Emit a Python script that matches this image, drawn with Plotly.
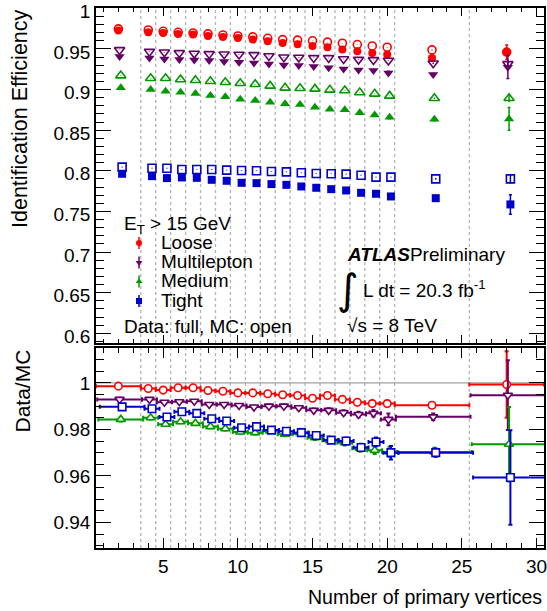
import plotly.graph_objects as go

# ---------------- data ----------------
n_pv = [2, 4, 5, 6, 7, 8, 9, 10, 11, 12, 13, 14, 15, 16, 17, 18, 19, 20, 23, 28]
bin_half = [1.5, 0.5, 0.5, 0.5, 0.5, 0.5, 0.5, 0.5, 0.5, 0.5, 0.5, 0.5, 0.5, 0.5, 0.5, 0.5, 0.5, 0.5, 2.5, 2.5]
bin_edges = [3.5, 4.5, 5.5, 6.5, 7.5, 8.5, 9.5, 10.5, 11.5, 12.5, 13.5, 14.5, 15.5,
             16.5, 17.5, 18.5, 19.5, 20.5, 25.5]

series_names = ["Loose", "Multilepton", "Medium", "Tight"]
x_shift = [0.0, 0.08, 0.16, 0.25]

loose_mc = [0.9747, 0.9734, 0.9717, 0.9705, 0.9697, 0.9685, 0.9672, 0.9660, 0.9648, 0.9631,
            0.9615, 0.9609, 0.9600, 0.9584, 0.9570, 0.9554, 0.9537, 0.9521, 0.9488, 0.9462]
loose_data = [0.9726, 0.9705, 0.9697, 0.9685, 0.9677, 0.9660, 0.9648, 0.9636, 0.9615, 0.9595,
              0.9574, 0.9557, 0.9537, 0.9521, 0.9492, 0.9472, 0.9451, 0.9431, 0.9390, 0.9459]
multi_mc = [0.9488, 0.9467, 0.9459, 0.9451, 0.9443, 0.9439, 0.9435, 0.9431, 0.9427, 0.9414,
            0.9398, 0.9394, 0.9390, 0.9390, 0.9377, 0.9369, 0.9365, 0.9357, 0.9324, 0.9316]
multi_data = [0.9406, 0.9390, 0.9377, 0.9369, 0.9365, 0.9357, 0.9344, 0.9336, 0.9328, 0.9316,
              0.9303, 0.9295, 0.9283, 0.9267, 0.9254, 0.9242, 0.9234, 0.9205, 0.9185, 0.9275]
medium_mc = [0.9172, 0.9139, 0.9139, 0.9123, 0.9115, 0.9103, 0.9090, 0.9078, 0.9066, 0.9045,
             0.9021, 0.9016, 0.9008, 0.8996, 0.8988, 0.8963, 0.8947, 0.8922, 0.8893, 0.8893]
medium_data = [0.9021, 0.9000, 0.8980, 0.8967, 0.8951, 0.8926, 0.8910, 0.8881, 0.8865, 0.8844,
               0.8824, 0.8815, 0.8783, 0.8758, 0.8750, 0.8713, 0.8688, 0.8660, 0.8635, 0.8639]
tight_mc = [0.8045, 0.8032, 0.8032, 0.8016, 0.8016, 0.8016, 0.8008, 0.8004, 0.8000, 0.7991,
            0.7987, 0.7975, 0.7967, 0.7963, 0.7959, 0.7946, 0.7922, 0.7922, 0.7901, 0.7901]
tight_data = [0.7963, 0.7934, 0.7910, 0.7918, 0.7913, 0.7889, 0.7877, 0.7852, 0.7848, 0.7836,
              0.7827, 0.7807, 0.7791, 0.7774, 0.7758, 0.7729, 0.7717, 0.7684, 0.7663, 0.7586]

data_err = {
    "Loose": [0.0005, 0.0004, 0.0004, 0.0004, 0.0004, 0.0004, 0.0004, 0.0004, 0.0005, 0.0005,
              0.0005, 0.0005, 0.0006, 0.0006, 0.0007, 0.0008, 0.0009, 0.0010, 0.0008, 0.0090],
    "Multilepton": [0.0007, 0.0005, 0.0005, 0.0005, 0.0005, 0.0005, 0.0006, 0.0006, 0.0006, 0.0007,
                    0.0007, 0.0008, 0.0008, 0.0009, 0.0010, 0.0012, 0.0014, 0.0020, 0.0014, 0.0140],
    "Medium": [0.0009, 0.0007, 0.0007, 0.0007, 0.0007, 0.0007, 0.0008, 0.0008, 0.0008, 0.0009,
               0.0009, 0.0010, 0.0010, 0.0011, 0.0012, 0.0014, 0.0016, 0.0020, 0.0018, 0.0140],
    "Tight": [0.0010, 0.0009, 0.0009, 0.0009, 0.0009, 0.0009, 0.0010, 0.0010, 0.0010, 0.0011,
              0.0011, 0.0012, 0.0012, 0.0013, 0.0014, 0.0016, 0.0019, 0.0025, 0.0018, 0.0120],
}
mc_err = {
    "Loose": [0.0002] * 18 + [0.0006, 0.0040],
    "Multilepton": [0.0003] * 18 + [0.0008, 0.0050],
    "Medium": [0.0003] * 18 + [0.0009, 0.0050],
    "Tight": [0.0004] * 18 + [0.0010, 0.0060],
}

loose_ratio = [0.9986, 0.9976, 0.9969, 0.9979, 0.9979, 0.9967, 0.9964, 0.9957, 0.9957, 0.9953,
               0.9949, 0.9946, 0.9934, 0.9946, 0.9929, 0.9917, 0.9911, 0.9911, 0.9904, 0.9993]
multi_ratio = [0.9929, 0.9929, 0.9917, 0.9919, 0.9921, 0.9907, 0.9907, 0.9903, 0.9896, 0.9900,
               0.9900, 0.9893, 0.9882, 0.9882, 0.9872, 0.9864, 0.9869, 0.9843, 0.9854, 0.9947]
medium_ratio = [0.9843, 0.9850, 0.9822, 0.9833, 0.9826, 0.9812, 0.9803, 0.9789, 0.9786, 0.9793,
                0.9779, 0.9786, 0.9764, 0.9753, 0.9743, 0.9719, 0.9710, 0.9703, 0.9703, 0.9736]
tight_ratio = [0.9897, 0.9889, 0.9853, 0.9876, 0.9869, 0.9846, 0.9836, 0.9807, 0.9812, 0.9797,
               0.9792, 0.9786, 0.9774, 0.9754, 0.9750, 0.9722, 0.9746, 0.9700, 0.9700, 0.9593]

loose_ratio_err = [0.0005, 0.0004, 0.0004, 0.0004, 0.0004, 0.0004, 0.0004, 0.0004, 0.0005, 0.0005,
                   0.0005, 0.0005, 0.0006, 0.0006, 0.0007, 0.0008, 0.0009, 0.0010, 0.0008, 0.0143]
multi_ratio_err = [0.0007, 0.0005, 0.0005, 0.0005, 0.0005, 0.0005, 0.0006, 0.0006, 0.0006, 0.0007,
                   0.0007, 0.0008, 0.0008, 0.0009, 0.0010, 0.0012, 0.0014, 0.0025, 0.0014, 0.0150]
medium_ratio_err = [0.0009, 0.0007, 0.0007, 0.0007, 0.0007, 0.0007, 0.0008, 0.0008, 0.0008, 0.0009,
                    0.0009, 0.0010, 0.0010, 0.0011, 0.0012, 0.0014, 0.0016, 0.0022, 0.0018, 0.0160]
tight_ratio_err = [0.0012, 0.0009, 0.0009, 0.0009, 0.0009, 0.0009, 0.0010, 0.0010, 0.0010, 0.0011,
                   0.0011, 0.0012, 0.0012, 0.0013, 0.0014, 0.0016, 0.0019, 0.0029, 0.0018, 0.0203]

top_ticks = [0.6, 0.65, 0.7, 0.75, 0.8, 0.85, 0.9, 0.95, 1.0]
top_ticktext = ["0.6", "0.65", "0.7", "0.75", "0.8", "0.85", "0.9", "0.95", "1"]
ratio_ticks = [0.94, 0.96, 0.98, 1.0]
ratio_ticktext = ["0.94", "0.96", "0.98", "1"]
x_ticks = [5, 10, 15, 20, 25, 30]
x_ticktext = ["5", "10", "15", "20", "25", "30"]

# ---------------- styles ----------------
colors = {"Loose": "#ff0000", "Multilepton": "#660066", "Medium": "#009900", "Tight": "#0000cc"}
symbols = {"Loose": "circle", "Multilepton": "triangle-down", "Medium": "triangle-up", "Tight": "square"}
msize = {"Loose": 8, "Multilepton": 9, "Medium": 9, "Tight": 8}
rsize = {"Loose": 7.5, "Multilepton": 8, "Medium": 8, "Tight": 7.5}

mc_vals = {"Loose": loose_mc, "Multilepton": multi_mc, "Medium": medium_mc, "Tight": tight_mc}
data_vals = {"Loose": loose_data, "Multilepton": multi_data, "Medium": medium_data, "Tight": tight_data}
ratio_vals = {"Loose": loose_ratio, "Multilepton": multi_ratio, "Medium": medium_ratio, "Tight": tight_ratio}
ratio_errs = {"Loose": loose_ratio_err, "Multilepton": multi_ratio_err, "Medium": medium_ratio_err,
              "Tight": tight_ratio_err}

FONT = "Liberation Sans, Arial, sans-serif"
W, H = 547, 611
ML, MR, MT, MB = 96, 3, 8, 63
plot_w = W - ML - MR
plot_h = H - MT - MB
top_bottom_px = 343
ratio_top_px = 348
top_domain = [(H - MB - top_bottom_px) / plot_h, 1.0]
ratio_domain = [0.0, (H - MB - ratio_top_px) / plot_h]


def px_x(p):
    return (p - ML) / plot_w


def px_y(p):
    return (H - MB - p) / plot_h


fig = go.Figure()

for i, name in enumerate(series_names):
    xs = [v + x_shift[i] for v in n_pv]
    c = colors[name]
    # MC (open)
    fig.add_trace(go.Scatter(
        x=xs, y=mc_vals[name], mode="markers", xaxis="x", yaxis="y",
        marker=dict(symbol=symbols[name] + "-open", size=msize[name], color=c, line=dict(width=1.6, color=c)),
        error_y=dict(type="data", array=mc_err[name], color=c, thickness=1.5, width=0),
        showlegend=False, hoverinfo="skip"))
    # Data (full)
    fig.add_trace(go.Scatter(
        x=xs, y=data_vals[name], mode="markers", xaxis="x", yaxis="y",
        marker=dict(symbol=symbols[name], size=msize[name], color=c, line=dict(width=0)),
        error_y=dict(type="data", array=data_err[name], color=c, thickness=1.5, width=1.5),
        showlegend=False, hoverinfo="skip"))

for i, name in enumerate(series_names):
    xs = [v + x_shift[i] for v in n_pv]
    c = colors[name]
    fig.add_trace(go.Scatter(
        x=xs, y=ratio_vals[name], mode="markers", xaxis="x2", yaxis="y2",
        marker=dict(symbol=symbols[name], size=rsize[name], color="white", line=dict(width=1.6, color=c)),
        error_x=dict(type="data", array=bin_half, color=c, thickness=2, width=2),
        error_y=dict(type="data", array=ratio_errs[name], color=c, thickness=2, width=2),
        showlegend=False, hoverinfo="skip"))

# legend keys on an invisible helper axis overlaying the top panel
key_x = px_x(139)
key_y_px = [243, 262.5, 281.5, 301]
top_h = top_bottom_px - MT
for name, ky in zip(series_names, key_y_px):
    c = colors[name]
    fig.add_trace(go.Scatter(
        x=[key_x], y=[(top_bottom_px - ky) / top_h], mode="markers", xaxis="x3", yaxis="y3",
        marker=dict(symbol=symbols[name], size=6, color=c),
        error_y=dict(type="data", array=[6 / top_h], color=c, thickness=1.5, width=0),
        showlegend=False, hoverinfo="skip"))

shapes = []
for e in bin_edges:
    for xr, yr in (("x", "y domain"), ("x2", "y2 domain")):
        shapes.append(dict(type="line", xref=xr, yref=yr, x0=e, x1=e, y0=0, y1=1,
                           line=dict(color="#b4b4b4", width=1.3, dash="3px,3px"), layer="below"))
shapes.append(dict(type="line", xref="x2 domain", yref="y2", x0=0, x1=1, y0=1, y1=1,
                   line=dict(color="#a0a0a0", width=1.2), layer="below"))

axis_common = dict(showline=True, linecolor="black", linewidth=1.5, mirror="allticks",
                   ticks="inside", showgrid=False, zeroline=False, tickcolor="black",
                   ticklabeloverflow="allow", automargin=False,
                   tickfont=dict(family=FONT, size=19, color="black"))

fig.update_layout(
    width=W, height=H, margin=dict(l=ML, r=MR, t=MT, b=MB, autoexpand=False),
    paper_bgcolor="white", plot_bgcolor="white",
    font=dict(family=FONT, size=19, color="black"),
    xaxis=dict(domain=[0, 1], anchor="y", range=[0.5, 30.5], tickvals=x_ticks, showticklabels=False,
               ticklen=8, tickwidth=1.2,
               minor=dict(dtick=1, tick0=0, ticklen=4, ticks="inside", tickcolor="black", tickwidth=1),
               **axis_common),
    yaxis=dict(domain=top_domain, anchor="x", range=[0.588, 1.0004], tickvals=top_ticks,
               ticktext=top_ticktext, ticklen=15, tickwidth=1.2, ticklabelshift=3,
               minor=dict(dtick=0.01, tick0=0, ticklen=8, ticks="inside", tickcolor="black", tickwidth=1),
               **axis_common),
    xaxis2=dict(domain=[0, 1], anchor="y2", range=[0.5, 30.5], tickvals=x_ticks, ticktext=x_ticktext,
                ticklen=10, tickwidth=1.2,
                minor=dict(dtick=1, tick0=0, ticklen=5, ticks="inside", tickcolor="black", tickwidth=1),
                **axis_common),
    yaxis2=dict(domain=ratio_domain, anchor="x2", range=[0.929, 1.015], tickvals=ratio_ticks,
                ticktext=ratio_ticktext, ticklen=15, tickwidth=1.2,
                minor=dict(dtick=0.005, tick0=0, ticklen=8, ticks="inside", tickcolor="black", tickwidth=1),
                **axis_common),
    xaxis3=dict(overlaying="x", anchor="y3", range=[0, 1], visible=False, fixedrange=True,
                automargin=False),
    yaxis3=dict(overlaying="y", anchor="x3", range=[0, 1], visible=False, fixedrange=True,
                automargin=False),
    shapes=shapes,
)

ann = []


def text(t, x, y, size=19, xanchor="left", yanchor="middle", angle=0, family=FONT):
    ann.append(dict(text=t, x=x, y=y, xref="paper", yref="paper", showarrow=False,
                    xanchor=xanchor, yanchor=yanchor, textangle=angle,
                    font=dict(family=family, size=size, color="black")))


text("E<sub>T</sub> > 15 GeV", px_x(122), px_y(225))
for name, py in zip(series_names, [242, 261.7, 280.7, 300.7]):
    text(name, px_x(159), px_y(py))
text("Data: full, MC: open", px_x(122), px_y(326))
text("<b><i>ATLAS</i></b>Preliminary", px_x(345), px_y(255))
text("∫", px_x(348), px_y(289), size=42, xanchor="center", family="DejaVu Sans")
text("L dt = 20.3 fb<sup>-1</sup>", px_x(361), px_y(289))
text("√s = 8 TeV", px_x(345), px_y(325))
text("Identification Efficiency", px_x(20), px_y(119), size=21.5, xanchor="center", angle=-90)
text("Data/MC", px_x(21.5), px_y(391), size=21, xanchor="center", angle=-90)
text("Number of primary vertices", 1.0, px_y(597), size=19.5, xanchor="right")

fig.update_layout(annotations=ann)

fig.write_html(
    "out.html",
    config={"displayModeBar": False},
    post_script="document.body.style.margin='0';document.body.style.overflow='hidden';",
)
